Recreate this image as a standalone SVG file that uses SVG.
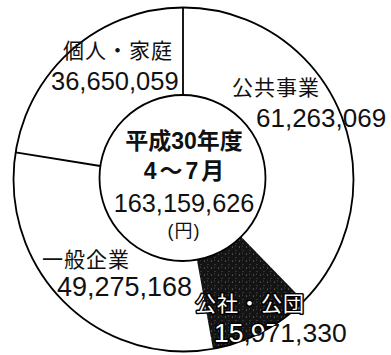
<svg xmlns="http://www.w3.org/2000/svg" width="391" height="355" viewBox="0 0 391 355">
<defs>
<style>
.ln{fill:none;stroke:#000;stroke-width:1.8}
.jp{font-family:"Liberation Sans","Noto Sans CJK JP",sans-serif;font-size:21px;letter-spacing:1px;fill:#111}
.num{font-family:"Liberation Sans","Noto Sans CJK JP",sans-serif;fill:#111}
.ctr{font-family:"Liberation Sans","Noto Sans CJK JP",sans-serif;fill:#111;text-anchor:middle}
.out{fill:#fff;stroke:#000;stroke-width:3;paint-order:stroke fill;stroke-linejoin:round}
</style>
<pattern id="speck" width="7" height="7" patternUnits="userSpaceOnUse">
<rect width="7" height="7" fill="#141414"/>
<circle cx="1.5" cy="2" r="0.6" fill="#8a8a8a"/>
<circle cx="5" cy="5.5" r="0.5" fill="#6a6a6a"/>
<circle cx="4.5" cy="1" r="0.4" fill="#9a9a9a"/>
</pattern>
<clipPath id="wedgeClip">
<path d="M241.2,236.7 L303.7,301.1 A170,172 0 0 1 213,348.9 L196.9,259.7 A83,83 0 0 0 241.2,236.7 Z"/>
</clipPath>
</defs>
<rect width="391" height="355" fill="#fff"/>
<g id="ring">
<ellipse cx="183.5" cy="179.5" rx="170" ry="172" fill="#fff"/>
<path id="wedge-kosha" d="M241.2,236.7 L303.7,301.1 A170,172 0 0 1 213,348.9 L196.9,259.7 A83,83 0 0 0 241.2,236.7 Z" fill="url(#speck)"/>
</g>
<g id="connectors">
<ellipse class="ln" cx="183.5" cy="179.5" rx="170" ry="172" stroke-width="2"/>
<line class="ln" x1="183" y1="7.5" x2="183" y2="95"/>
<line class="ln" x1="15.6" y1="152.3" x2="100.3" y2="166"/>
</g>
<g id="center">
<circle cx="182.5" cy="178" r="83" fill="#fff" stroke="#000" stroke-width="1.8"/>
<text class="ctr" x="184" y="149" font-size="23" font-weight="bold">平成30年度</text>
<text class="ctr" x="185.5" y="179" font-size="23" font-weight="bold" letter-spacing="3">4～7月</text>
<text class="ctr" x="184" y="212" font-size="25.3">163,159,626</text>
<text class="ctr" x="184" y="237" font-size="18" letter-spacing="1">(円)</text>
</g>
<g id="node-kojin">
<text class="jp" x="63" y="57.5" font-size="20" letter-spacing="2">個人・家庭</text>
<text class="num" x="51" y="90" font-size="25.5">36,650,059</text>
</g>
<g id="node-kokyo">
<text class="jp" x="232" y="95">公共事業</text>
<text class="num" x="256" y="127" font-size="26">61,263,069</text>
</g>
<g id="node-ippan">
<text class="jp" x="42" y="266.5">一般企業</text>
<text class="num" x="57" y="296" font-size="27">49,275,168</text>
</g>
<g id="node-kosha">
<text class="jp out" x="195" y="310.5" letter-spacing="1.5">公社・公団</text>
<text class="num" x="214" y="342" font-size="26.5">15,971,330</text>
<text class="num out" x="214" y="342" font-size="26.5" clip-path="url(#wedgeClip)">15,971,330</text>
</g>
</svg>
